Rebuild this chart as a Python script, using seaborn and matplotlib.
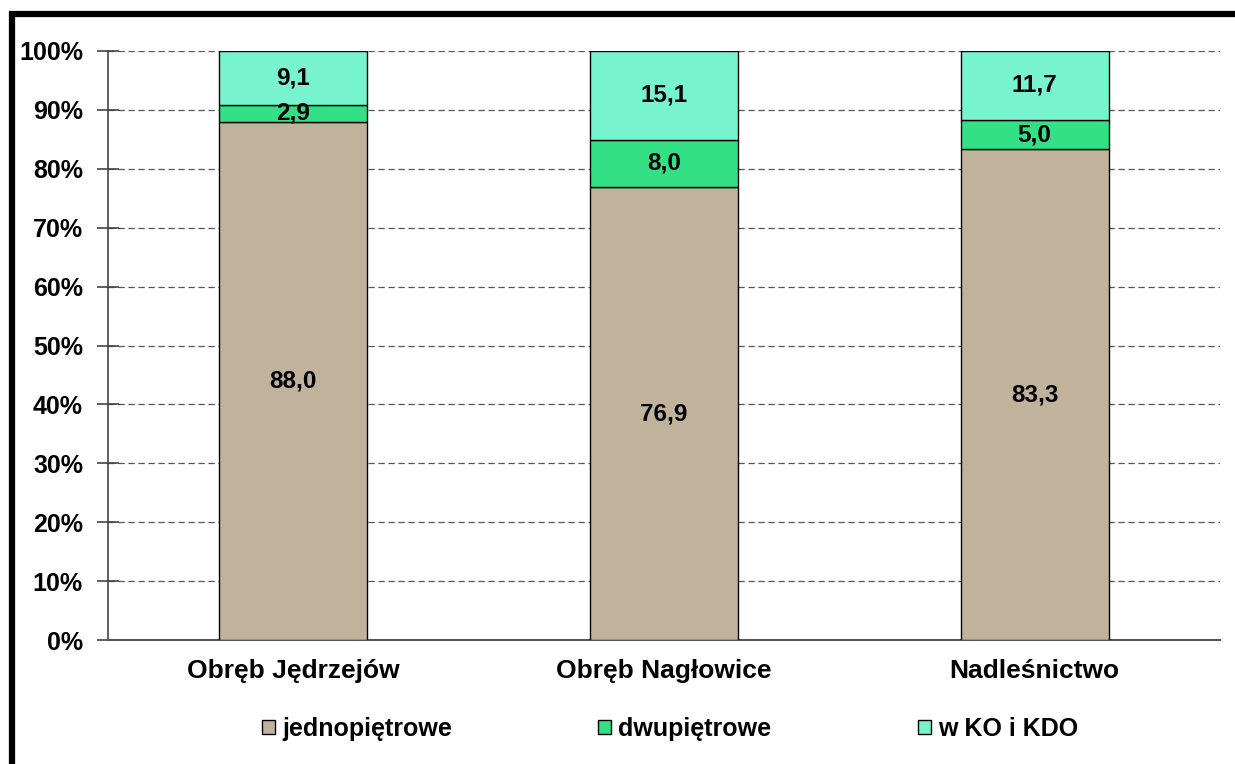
import matplotlib
matplotlib.use("Agg")
import matplotlib.pyplot as plt
import matplotlib.patches as mpatches
import seaborn as sns
import numpy as np
import pandas as pd

categories = ["Obręb Jędrzejów", "Obręb Nagłowice", "Nadleśnictwo"]
series_names = ["jednopiętrowe", "dwupiętrowe", "w KO i KDO"]
jednopietrowe = [88.0, 76.9, 83.3]
dwupietrowe = [2.9, 8.0, 5.0]
w_ko_kdo = [9.1, 15.1, 11.7]
yticks = [0, 10, 20, 30, 40, 50, 60, 70, 80, 90, 100]
ytick_labels = ["0%", "10%", "20%", "30%", "40%", "50%", "60%", "70%", "80%", "90%", "100%"]
colors = ["#C0B29B", "#33E085", "#77F4CE"]

sns.set_theme(style="white")
FAM = ["Liberation Sans Narrow", "Liberation Sans", "DejaVu Sans"]
plt.rcParams["font.family"] = FAM
plt.rcParams["font.weight"] = "bold"
plt.rcParams["text.color"] = "black"
plt.rcParams["xtick.color"] = "black"
plt.rcParams["ytick.color"] = "black"

fig = plt.figure(figsize=(12.35, 7.64), dpi=100)
ax = fig.add_axes([108 / 1235, 1 - 640 / 764, (1220 - 108) / 1235, (640 - 51) / 764])

series = [jednopietrowe, dwupietrowe, w_ko_kdo]
bottom = np.zeros(len(categories))
handles = []
for name, vals, col in zip(series_names, series, colors):
    df = pd.DataFrame({"cat": categories, "val": vals})
    sns.barplot(data=df, x="cat", y="val", order=categories, color=col,
                width=0.4, bottom=bottom.copy(), edgecolor="black",
                linewidth=1.0, ax=ax, saturation=1, zorder=3)
    for i, v in enumerate(vals):
        ax.text(i, bottom[i] + v / 2, f"{v:.1f}".replace(".", ","),
                ha="center", va="center", fontsize=17.5, fontweight="bold",
                color="black", zorder=5)
    bottom = bottom + np.array(vals)
    handles.append(mpatches.Patch(facecolor=col, edgecolor="black", linewidth=1.0, label=name))

ax.set_xlim(-0.5, 2.5)
ax.set_ylim(0, 100)
ax.set_yticks(yticks)
ax.set_yticklabels(ytick_labels)
ax.set_xlabel("")
ax.set_ylabel("")
ax.set_axisbelow(True)
ax.yaxis.grid(True, linestyle=(0, (5, 3)), color="#555555", linewidth=0.9)
ax.xaxis.grid(False)

for s in ["top", "right"]:
    ax.spines[s].set_visible(False)
ax.spines["left"].set_color("#444444")
ax.spines["bottom"].set_color("#555555")
ax.spines["left"].set_linewidth(1.2)
ax.spines["bottom"].set_linewidth(1.5)

ax.tick_params(axis="y", direction="inout", length=16, width=1.2, color="#444444",
               labelcolor="black", labelsize=18, pad=10, left=True)
ax.tick_params(axis="x", length=0, labelsize=19, labelcolor="black", pad=14)
for lbl in ax.get_yticklabels() + ax.get_xticklabels():
    lbl.set_fontweight("bold")

leg = fig.legend(handles=handles, loc="center", bbox_to_anchor=(670 / 1235, 1 - 729 / 764),
                 ncol=3, frameon=False, fontsize=18, handlelength=0.52, handleheight=0.52,
                 handletextpad=0.28, columnspacing=5.85)
for t in leg.get_texts():
    t.set_fontweight("bold")
    t.set_color("black")

border = mpatches.Rectangle((11.5 / 1235, -0.2), 1.5, 1 - 14 / 764 + 0.2,
                            transform=fig.transFigure, fill=False, edgecolor="black",
                            linewidth=4.5, clip_on=False)
fig.patches.append(border)

fig.savefig("out.png", dpi=100)
